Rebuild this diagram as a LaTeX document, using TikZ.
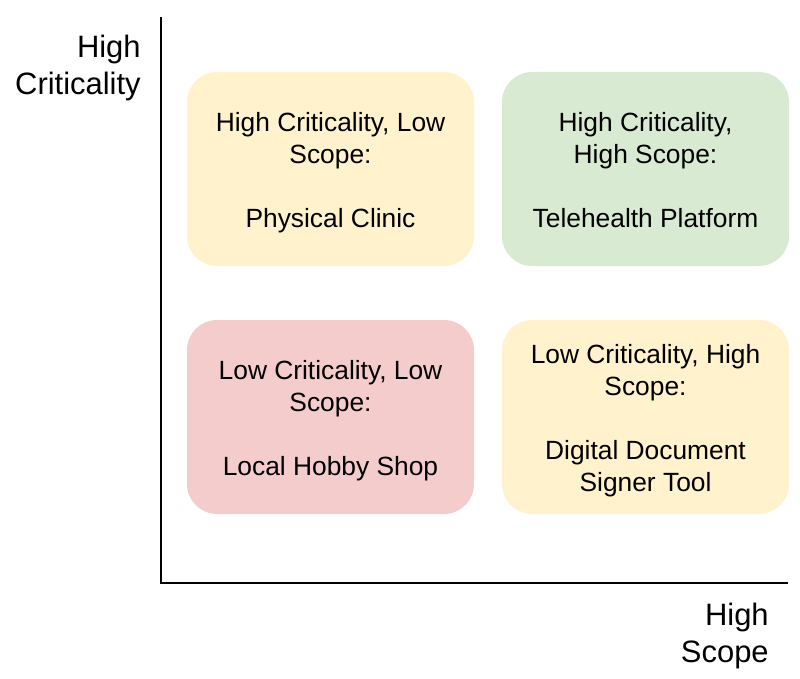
\documentclass[tikz,border=0pt]{standalone}
\usepackage{fontspec}
\setmainfont{Liberation Sans}
\usetikzlibrary{positioning}
\definecolor{boxyellow}{HTML}{FFF2CC}
\definecolor{boxgreen}{HTML}{D9EAD3}
\definecolor{boxred}{HTML}{F4CCCC}
\tikzset{
    quadrant/.style={rounded corners=0.6cm, minimum width=5.74cm, minimum height=3.88cm, inner sep=0pt, outer sep=0pt},
    quadtext/.style={align=center, inner sep=0pt, font=\fontsize{15}{18.2}\selectfont, execute at end node=\strut},
    axislabel/.style={align=right, inner sep=0pt, font=\fontsize{17.6}{21.6}\selectfont}
}
\begin{document}
\begin{tikzpicture}
    \useasboundingbox (0,0) rectangle (16,13.56);

    %Achsen
    \coordinate (origin) at (3.22,1.9);
    \coordinate (ytop) at (3.22,13.22);
    \coordinate (xend) at (15.76,1.9);
    \draw[line width=1.1pt] (ytop) -- (origin) -- (xend);

    %Beschriftung der Achsen
    \node[axislabel, anchor=east] (ylabel) at (2.82,12.2) {High\\Criticality};
    \node[axislabel, anchor=east] (xlabel) at (15.38,0.84) {High\\Scope};

    %Quadranten
    \node[quadrant, fill=boxyellow] (hcls) at (6.61,10.18) {};
    \node[quadrant, fill=boxgreen, right=0.56cm of hcls] (hchs) {};
    \node[quadrant, fill=boxred, below=1.08cm of hcls] (lcls) {};
    \node[quadrant, fill=boxyellow, below=1.08cm of hchs] (lchs) {};

    %Texte
    \node[quadtext] (hclstext) at ([yshift=-0.12cm]hcls.center) {High Criticality, Low\\Scope:\\[18.2pt]Physical Clinic};
    \node[quadtext] (hchstext) at ([yshift=-0.12cm]hchs.center) {High Criticality,\\High Scope:\\[18.2pt]Telehealth Platform};
    \node[quadtext] (lclstext) at ([yshift=-0.12cm]lcls.center) {Low Criticality, Low\\Scope:\\[18.2pt]Local Hobby Shop};
    \node[quadtext] (lchstext) at ([yshift=-0.12cm]lchs.center) {Low Criticality, High\\Scope:\\[18.2pt]Digital Document\\Signer Tool};
\end{tikzpicture}
\end{document}
